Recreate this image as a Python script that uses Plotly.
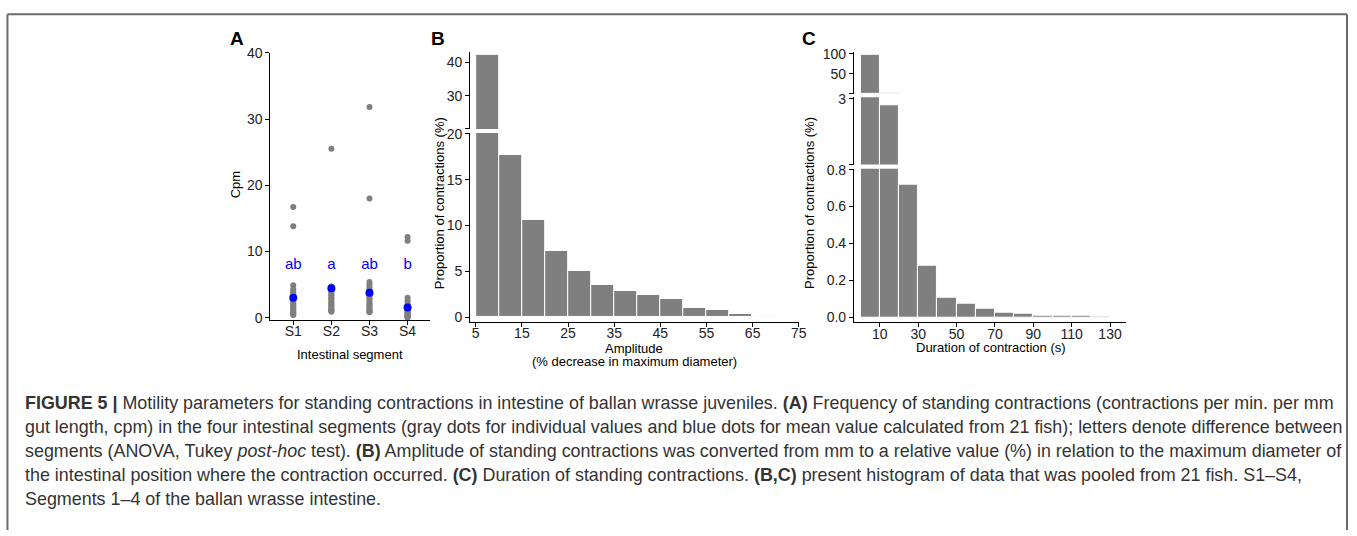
import plotly.graph_objects as go

W, H = 1357, 536

# ---------------- data ----------------
segments = ["S1", "S2", "S3", "S4"]
cpm_s1 = [16.7, 13.8, 4.9, 4.3, 4.0, 3.7, 3.4, 3.1, 2.8, 2.5, 2.2, 2.0, 1.8, 1.6, 1.4, 1.2, 1.0, 0.8, 0.7, 0.5, 0.4]
cpm_s2 = [25.5, 4.7, 4.5, 4.3, 4.1, 3.9, 3.6, 3.4, 3.1, 2.9, 2.7, 2.4, 2.2, 2.0, 1.8, 1.6, 1.4, 1.2, 1.1, 1.0, 0.9]
cpm_s3 = [31.8, 18.0, 5.4, 5.0, 4.6, 4.3, 4.0, 3.7, 3.4, 3.1, 2.8, 2.5, 2.2, 2.0, 1.8, 1.6, 1.4, 1.2, 1.0, 0.9, 0.8]
cpm_s4 = [12.2, 11.6, 3.0, 2.6, 2.2, 1.9, 1.6, 1.4, 1.2, 1.0, 0.9, 0.8, 0.7, 0.6, 0.5, 0.4, 0.3, 0.2, 0.1, 0.05, 0.0]
cpm_mean = [3.0, 4.45, 3.75, 1.55]
letters = ["ab", "a", "ab", "b"]
letter_y = 7.9

amp_bin_start = [5, 10, 15, 20, 25, 30, 35, 40, 45, 50, 55, 60, 65]
amp_bin_width = 5
amp_pct = [42.3, 17.7, 10.65, 7.2, 5.08, 3.55, 2.85, 2.4, 2.03, 1.0, 0.8, 0.42, 0.18]

dur_bin_start = [0, 10, 20, 30, 40, 50, 60, 70, 80, 90, 100, 110, 120]
dur_bin_width = 10
dur_pct = [95.9, 2.78, 0.717, 0.278, 0.107, 0.074, 0.049, 0.026, 0.019, 0.011, 0.011, 0.007, 0.004]

caption_lines = [
    "<b>FIGURE 5 |</b> Motility parameters for standing contractions in intestine of ballan wrasse juveniles. <b>(A)</b> Frequency of standing contractions (contractions per min. per mm",
    "gut length, cpm) in the four intestinal segments (gray dots for individual values and blue dots for mean value calculated from 21 fish); letters denote difference between",
    "segments (ANOVA, Tukey <i>post-hoc</i> test). <b>(B)</b> Amplitude of standing contractions was converted from mm to a relative value (%) in relation to the maximum diameter of",
    "the intestinal position where the contraction occurred. <b>(C)</b> Duration of standing contractions. <b>(B,C)</b> present histogram of data that was pooled from 21 fish. S1–S4,",
    "Segments 1–4 of the ballan wrasse intestine.",
]

# ---------------- helpers ----------------
def px(x):
    return x / W

def py(y):
    return 1 - y / H

FONT = "Liberation Sans, Arial, sans-serif"
TICKFONT = dict(family=FONT, size=14, color="#222")
BAR_FILL = "#7f7f7f"
GRAY_DOT = "#7f7f7f"

fig = go.Figure()

# ---------------- Panel A ----------------
for seg, vals in zip(segments, [cpm_s1, cpm_s2, cpm_s3, cpm_s4]):
    fig.add_trace(go.Scatter(
        x=[seg] * len(vals), y=vals, mode="markers",
        marker=dict(color=GRAY_DOT, size=6),
        xaxis="x", yaxis="y", showlegend=False, cliponaxis=False,
    ))
fig.add_trace(go.Scatter(
    x=segments, y=cpm_mean, mode="markers",
    marker=dict(color="#0000ff", size=8),
    xaxis="x", yaxis="y", showlegend=False, cliponaxis=False,
))
fig.add_trace(go.Scatter(
    x=segments, y=[letter_y] * len(segments), mode="text", text=letters,
    textfont=dict(family=FONT, size=15, color="#0000ff"),
    xaxis="x", yaxis="y", showlegend=False, cliponaxis=False,
))

# ---------------- Panel B ----------------
for yax in ["y2", "y3"]:
    fig.add_trace(go.Bar(
        x=amp_bin_start, y=amp_pct, width=amp_bin_width, offset=0,
        marker=dict(color=BAR_FILL, line=dict(color="white", width=1)),
        xaxis="x2", yaxis=yax, showlegend=False,
    ))

# ---------------- Panel C ----------------
for yax in ["y4", "y5", "y6"]:
    fig.add_trace(go.Bar(
        x=dur_bin_start, y=dur_pct, width=dur_bin_width, offset=0,
        marker=dict(color=BAR_FILL, line=dict(color="white", width=1)),
        xaxis="x3", yaxis=yax, showlegend=False,
    ))

axis_common = dict(
    showline=True, linecolor="black", linewidth=1, ticks="outside",
    ticklen=4, tickcolor="black", tickwidth=1, showgrid=False,
    zeroline=False, tickfont=TICKFONT, fixedrange=True,
)
xaxis_common = dict(axis_common, ticklabelstandoff=-5)

fig.update_layout(
    width=W, height=H, autosize=False,
    margin=dict(l=0, r=0, t=0, b=0),
    paper_bgcolor="white", plot_bgcolor="rgba(0,0,0,0)",
    barmode="overlay", bargap=0,
    xaxis=dict(xaxis_common, domain=[px(272), px(433)], anchor="y",
               type="category", range=[-0.6, 3.6]),
    yaxis=dict(axis_common, domain=[py(320), py(46)], anchor="x",
               range=[-0.3, 40], tickvals=[0, 10, 20, 30, 40]),
    xaxis2=dict(xaxis_common, domain=[px(473), px(803.5)], anchor="y2",
                range=[3.8, 75], tickvals=list(range(5, 76, 10))),
    yaxis2=dict(axis_common, domain=[py(322), py(128.3)], anchor="x2",
                range=[-0.46, 20.08], tickvals=[0, 5, 10, 15, 20]),
    yaxis3=dict(axis_common, domain=[py(124.3), py(45)], anchor="x2",
                range=[20.0, 43.2], tickvals=[20.05, 30, 40], ticktext=["", "30", "40"]),
    xaxis3=dict(xaxis_common, domain=[px(859), px(1133)], anchor="y4",
                range=[-3.5, 138.5], tickvals=list(range(10, 131, 20))),
    yaxis4=dict(axis_common, domain=[py(322.7), py(165)], anchor="x3",
                range=[-0.026, 0.805], tickvals=[0, 0.2, 0.4, 0.6, 0.8],
                ticktext=["0.0", "0.2", "0.4", "0.6", "0.8"]),
    yaxis5=dict(axis_common, domain=[py(160.7), py(91.7)], anchor="x3",
                range=[0.8, 3.05], tickvals=[0.805, 3], ticktext=["", "3"]),
    yaxis6=dict(axis_common, domain=[py(88.3), py(45)], anchor="x3",
                range=[0, 104.5], tickvals=[0.8, 50, 100], ticktext=["", "50", "100"]),
)

ann = []

def label(text, x, y, size=13, angle=0, bold=False, xanchor="center", color="black"):
    ann.append(dict(
        text=f"<b>{text}</b>" if bold else text, x=px(x), y=py(y),
        xref="paper", yref="paper", xanchor=xanchor, yanchor="middle",
        showarrow=False, textangle=angle,
        font=dict(family=FONT, size=size, color=color),
    ))

# panel letters
label("A", 238.5, 31, size=19, bold=True)
label("B", 441, 31, size=19, bold=True)
label("C", 813.5, 31, size=19, bold=True)

# axis titles
label("Cpm", 236.5, 182, angle=-90)
label("Intestinal segment", 352, 356)
label("Proportion of contractions (%)", 442, 200, angle=-90)
label("Amplitude", 638, 349.5)
label("(% decrease in maximum diameter)", 638, 362.5)
label("Proportion of contractions (%)", 815, 200, angle=-90)
label("Duration of contraction (s)", 997, 349)

# caption
cap_y = [406, 430.5, 455, 479.5, 504]
for line, yy in zip(caption_lines, cap_y):
    ann.append(dict(
        text=line, x=px(23), y=py(yy), xref="paper", yref="paper",
        xanchor="left", yanchor="middle", showarrow=False,
        font=dict(family="Liberation Sans Narrow, Arial Narrow, Liberation Sans, sans-serif",
                  size=17.9, color="#333"),
    ))

fig.update_layout(annotations=ann)

# figure border (open at the bottom)
border = dict(type="line", xref="paper", yref="paper", line=dict(color="#6b6b6b", width=2))
fig.update_layout(shapes=[
    dict(border, x0=px(7.5), x1=px(1355), y0=py(6.5), y1=py(6.5)),
    dict(border, x0=px(7.5), x1=px(7.5), y0=py(6.5), y1=0),
    dict(border, x0=px(1355), x1=px(1355), y0=py(6.5), y1=0),
])

fig.write_html(
    "out.html",
    config={"displayModeBar": False},
    post_script="document.body.style.margin='0';document.body.style.padding='0';"
                "document.body.style.overflow='hidden';",
)
